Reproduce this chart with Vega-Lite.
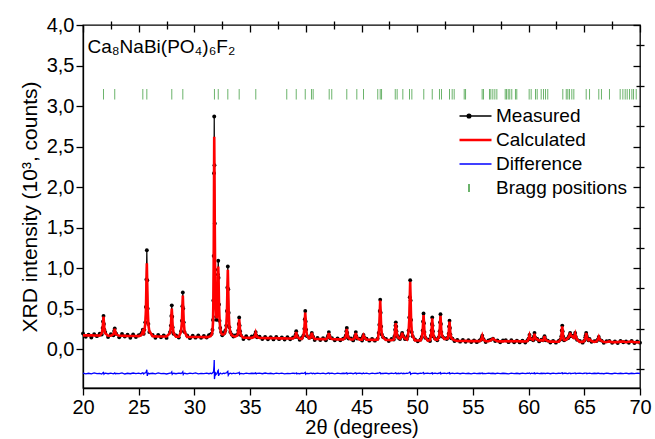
{
 "$schema": "https://vega.github.io/schema/vega-lite/v6.json",
 "width": 557, "height": 363,
 "autosize": {"type": "none"},
 "padding": {"left": 83, "top": 25, "right": 15, "bottom": 51},
 "background": "white",
 "config": {
  "font": "Liberation Sans",
  "view": {"stroke": "black", "strokeWidth": 1.3},
  "axis": {"domainColor": "black", "tickColor": "black", "labelColor": "black", "titleColor": "black", "grid": false, "labelFontSize": 20, "titleFontSize": 20, "titleFontWeight": "normal", "tickWidth": 1.3, "domainWidth": 1.3, "labelFlush": false, "labelOverlap": false}
 },
 "datasets": {
  "xrd": [
{"x":20,"m":0.192,"c":0.170,"d":-0.296},
{"x":20.25,"m":0.152,"c":0.170,"d":-0.305},
{"x":20.5,"m":0.179,"c":0.169,"d":-0.298},
{"x":20.75,"m":0.144,"c":0.169,"d":-0.306},
{"x":21,"m":0.184,"c":0.168,"d":-0.293},
{"x":21.25,"m":0.160,"c":0.168,"d":-0.303},
{"x":21.5,"m":0.191,"c":0.167,"d":-0.299},
{"x":21.68,"m":0.180,"c":0.195,"d":-0.308},
{"x":21.76,"m":0.260,"c":0.251,"d":-0.295},
{"x":21.8,"m":0.340,"c":0.328,"d":-0.296},
{"x":21.84,"m":0.410,"c":0.400,"d":-0.290},
{"x":21.88,"m":0.310,"c":0.328,"d":-0.309},
{"x":21.92,"m":0.240,"c":0.251,"d":-0.302},
{"x":22,"m":0.210,"c":0.195,"d":-0.297},
{"x":22.25,"m":0.149,"c":0.166,"d":-0.304},
{"x":22.5,"m":0.183,"c":0.165,"d":-0.296},
{"x":22.73,"m":0.170,"c":0.182,"d":-0.305},
{"x":22.8,"m":0.225,"c":0.215,"d":-0.298},
{"x":22.85,"m":0.255,"c":0.250,"d":-0.294},
{"x":22.9,"m":0.200,"c":0.215,"d":-0.306},
{"x":22.97,"m":0.190,"c":0.182,"d":-0.299},
{"x":23.25,"m":0.147,"c":0.164,"d":-0.303},
{"x":23.5,"m":0.186,"c":0.164,"d":-0.293},
{"x":23.75,"m":0.155,"c":0.163,"d":-0.307},
{"x":24,"m":0.178,"c":0.162,"d":-0.298},
{"x":24.25,"m":0.140,"c":0.162,"d":-0.304},
{"x":24.5,"m":0.180,"c":0.161,"d":-0.295},
{"x":24.75,"m":0.150,"c":0.161,"d":-0.302},
{"x":25,"m":0.171,"c":0.160,"d":-0.297},
{"x":25.2,"m":0.185,"c":0.170,"d":-0.305},
{"x":25.3,"m":0.205,"c":0.190,"d":-0.296},
{"x":25.37,"m":0.240,"c":0.220,"d":-0.292},
{"x":25.45,"m":0.190,"c":0.200,"d":-0.306},
{"x":25.51,"m":0.240,"c":0.230,"d":-0.297},
{"x":25.59,"m":0.330,"c":0.310,"d":-0.293},
{"x":25.65,"m":0.520,"c":0.484,"d":-0.288},
{"x":25.69,"m":0.860,"c":0.780,"d":-0.272},
{"x":25.73,"m":1.220,"c":1.060,"d":-0.255},
{"x":25.77,"m":0.850,"c":0.780,"d":-0.330},
{"x":25.81,"m":0.500,"c":0.484,"d":-0.310},
{"x":25.87,"m":0.310,"c":0.300,"d":-0.296},
{"x":25.95,"m":0.210,"c":0.223,"d":-0.304},
{"x":26.25,"m":0.175,"c":0.158,"d":-0.298},
{"x":26.5,"m":0.140,"c":0.157,"d":-0.305},
{"x":26.75,"m":0.176,"c":0.156,"d":-0.294},
{"x":27,"m":0.146,"c":0.156,"d":-0.303},
{"x":27.25,"m":0.170,"c":0.155,"d":-0.299},
{"x":27.5,"m":0.138,"c":0.155,"d":-0.307},
{"x":27.81,"m":0.210,"c":0.196,"d":-0.296},
{"x":27.89,"m":0.290,"c":0.279,"d":-0.295},
{"x":27.93,"m":0.410,"c":0.393,"d":-0.291},
{"x":27.97,"m":0.540,"c":0.500,"d":-0.282},
{"x":28.01,"m":0.400,"c":0.393,"d":-0.310},
{"x":28.05,"m":0.270,"c":0.279,"d":-0.303},
{"x":28.13,"m":0.190,"c":0.196,"d":-0.298},
{"x":28.35,"m":0.170,"c":0.153,"d":-0.304},
{"x":28.6,"m":0.142,"c":0.153,"d":-0.296},
{"x":28.8,"m":0.220,"c":0.213,"d":-0.301},
{"x":28.88,"m":0.350,"c":0.336,"d":-0.295},
{"x":28.92,"m":0.530,"c":0.504,"d":-0.289},
{"x":28.96,"m":0.700,"c":0.660,"d":-0.280},
{"x":29,"m":0.500,"c":0.504,"d":-0.312},
{"x":29.04,"m":0.330,"c":0.336,"d":-0.303},
{"x":29.12,"m":0.210,"c":0.213,"d":-0.298},
{"x":29.35,"m":0.168,"c":0.150,"d":-0.305},
{"x":29.6,"m":0.135,"c":0.150,"d":-0.297},
{"x":29.85,"m":0.166,"c":0.150,"d":-0.303},
{"x":30.1,"m":0.141,"c":0.150,"d":-0.294},
{"x":30.35,"m":0.170,"c":0.149,"d":-0.306},
{"x":30.6,"m":0.139,"c":0.149,"d":-0.299},
{"x":30.85,"m":0.163,"c":0.148,"d":-0.302},
{"x":31.1,"m":0.142,"c":0.148,"d":-0.296},
{"x":31.3,"m":0.171,"c":0.152,"d":-0.304},
{"x":31.45,"m":0.180,"c":0.160,"d":-0.298},
{"x":31.55,"m":0.190,"c":0.180,"d":-0.303},
{"x":31.62,"m":0.240,"c":0.220,"d":-0.295},
{"x":31.67,"m":0.360,"c":0.330,"d":-0.290},
{"x":31.7,"m":0.600,"c":0.550,"d":-0.284},
{"x":31.73,"m":1.150,"c":1.050,"d":-0.262},
{"x":31.76,"m":2.170,"c":1.950,"d":-0.205},
{"x":31.78,"m":2.870,"c":2.620,"d":-0.135},
{"x":31.8,"m":2.270,"c":2.200,"d":-0.370},
{"x":31.83,"m":1.550,"c":1.500,"d":-0.335},
{"x":31.86,"m":0.980,"c":0.950,"d":-0.280},
{"x":31.9,"m":0.550,"c":0.580,"d":-0.318},
{"x":31.95,"m":0.400,"c":0.420,"d":-0.310},
{"x":32,"m":0.360,"c":0.380,"d":-0.306},
{"x":32.04,"m":0.450,"c":0.430,"d":-0.292},
{"x":32.08,"m":0.660,"c":0.620,"d":-0.285},
{"x":32.11,"m":0.920,"c":0.850,"d":-0.268},
{"x":32.14,"m":1.090,"c":1.020,"d":-0.262},
{"x":32.17,"m":0.880,"c":0.850,"d":-0.330},
{"x":32.21,"m":0.550,"c":0.550,"d":-0.315},
{"x":32.26,"m":0.350,"c":0.360,"d":-0.305},
{"x":32.32,"m":0.260,"c":0.250,"d":-0.296},
{"x":32.4,"m":0.210,"c":0.200,"d":-0.302},
{"x":32.5,"m":0.170,"c":0.180,"d":-0.306},
{"x":32.6,"m":0.190,"c":0.180,"d":-0.297},
{"x":32.7,"m":0.200,"c":0.190,"d":-0.301},
{"x":32.78,"m":0.230,"c":0.210,"d":-0.296},
{"x":32.86,"m":0.290,"c":0.275,"d":-0.293},
{"x":32.92,"m":0.470,"c":0.445,"d":-0.288},
{"x":32.96,"m":0.760,"c":0.720,"d":-0.280},
{"x":33,"m":1.020,"c":0.980,"d":-0.275},
{"x":33.04,"m":0.740,"c":0.720,"d":-0.322},
{"x":33.08,"m":0.450,"c":0.445,"d":-0.312},
{"x":33.14,"m":0.270,"c":0.275,"d":-0.303},
{"x":33.22,"m":0.210,"c":0.210,"d":-0.298},
{"x":33.35,"m":0.180,"c":0.170,"d":-0.304},
{"x":33.5,"m":0.155,"c":0.160,"d":-0.296},
{"x":33.65,"m":0.170,"c":0.155,"d":-0.302},
{"x":33.86,"m":0.180,"c":0.169,"d":-0.297},
{"x":33.94,"m":0.230,"c":0.224,"d":-0.295},
{"x":33.98,"m":0.310,"c":0.300,"d":-0.292},
{"x":34.02,"m":0.390,"c":0.370,"d":-0.288},
{"x":34.06,"m":0.290,"c":0.300,"d":-0.309},
{"x":34.1,"m":0.220,"c":0.224,"d":-0.303},
{"x":34.18,"m":0.170,"c":0.169,"d":-0.299},
{"x":34.4,"m":0.125,"c":0.141,"d":-0.305},
{"x":34.65,"m":0.158,"c":0.140,"d":-0.296},
{"x":34.9,"m":0.130,"c":0.139,"d":-0.303},
{"x":35.15,"m":0.155,"c":0.139,"d":-0.298},
{"x":35.38,"m":0.160,"c":0.150,"d":-0.301},
{"x":35.45,"m":0.180,"c":0.175,"d":-0.296},
{"x":35.5,"m":0.210,"c":0.200,"d":-0.293},
{"x":35.55,"m":0.170,"c":0.175,"d":-0.305},
{"x":35.62,"m":0.145,"c":0.150,"d":-0.300},
{"x":35.85,"m":0.152,"c":0.137,"d":-0.297},
{"x":36.1,"m":0.124,"c":0.137,"d":-0.304},
{"x":36.35,"m":0.150,"c":0.136,"d":-0.295},
{"x":36.6,"m":0.122,"c":0.135,"d":-0.303},
{"x":36.85,"m":0.148,"c":0.135,"d":-0.298},
{"x":37.1,"m":0.120,"c":0.134,"d":-0.306},
{"x":37.35,"m":0.150,"c":0.136,"d":-0.296},
{"x":37.6,"m":0.123,"c":0.133,"d":-0.302},
{"x":37.85,"m":0.145,"c":0.133,"d":-0.297},
{"x":38.1,"m":0.118,"c":0.132,"d":-0.305},
{"x":38.35,"m":0.146,"c":0.131,"d":-0.299},
{"x":38.6,"m":0.121,"c":0.130,"d":-0.303},
{"x":38.85,"m":0.143,"c":0.130,"d":-0.296},
{"x":39.02,"m":0.150,"c":0.146,"d":-0.301},
{"x":39.09,"m":0.180,"c":0.177,"d":-0.298},
{"x":39.14,"m":0.220,"c":0.210,"d":-0.294},
{"x":39.19,"m":0.170,"c":0.177,"d":-0.305},
{"x":39.26,"m":0.150,"c":0.146,"d":-0.300},
{"x":39.45,"m":0.115,"c":0.128,"d":-0.304},
{"x":39.65,"m":0.141,"c":0.127,"d":-0.297},
{"x":39.79,"m":0.170,"c":0.166,"d":-0.299},
{"x":39.87,"m":0.250,"c":0.243,"d":-0.296},
{"x":39.91,"m":0.370,"c":0.350,"d":-0.291},
{"x":39.95,"m":0.470,"c":0.450,"d":-0.287},
{"x":39.99,"m":0.340,"c":0.350,"d":-0.309},
{"x":40.03,"m":0.240,"c":0.243,"d":-0.303},
{"x":40.11,"m":0.160,"c":0.166,"d":-0.299},
{"x":40.3,"m":0.140,"c":0.135,"d":-0.302},
{"x":40.42,"m":0.145,"c":0.140,"d":-0.297},
{"x":40.49,"m":0.175,"c":0.170,"d":-0.296},
{"x":40.54,"m":0.200,"c":0.200,"d":-0.300},
{"x":40.59,"m":0.165,"c":0.170,"d":-0.303},
{"x":40.66,"m":0.150,"c":0.150,"d":-0.298},
{"x":40.8,"m":0.112,"c":0.124,"d":-0.304},
{"x":41.05,"m":0.138,"c":0.124,"d":-0.296},
{"x":41.3,"m":0.113,"c":0.123,"d":-0.302},
{"x":41.55,"m":0.135,"c":0.123,"d":-0.297},
{"x":41.8,"m":0.110,"c":0.122,"d":-0.305},
{"x":41.95,"m":0.145,"c":0.138,"d":-0.298},
{"x":42.02,"m":0.170,"c":0.168,"d":-0.296},
{"x":42.07,"m":0.210,"c":0.200,"d":-0.293},
{"x":42.12,"m":0.165,"c":0.168,"d":-0.304},
{"x":42.19,"m":0.135,"c":0.138,"d":-0.300},
{"x":42.35,"m":0.135,"c":0.125,"d":-0.297},
{"x":42.6,"m":0.108,"c":0.121,"d":-0.305},
{"x":42.85,"m":0.133,"c":0.120,"d":-0.296},
{"x":43.1,"m":0.110,"c":0.120,"d":-0.302},
{"x":43.35,"m":0.130,"c":0.119,"d":-0.298},
{"x":43.52,"m":0.140,"c":0.135,"d":-0.301},
{"x":43.6,"m":0.170,"c":0.166,"d":-0.297},
{"x":43.64,"m":0.220,"c":0.209,"d":-0.294},
{"x":43.68,"m":0.260,"c":0.250,"d":-0.292},
{"x":43.72,"m":0.200,"c":0.209,"d":-0.306},
{"x":43.76,"m":0.160,"c":0.166,"d":-0.302},
{"x":43.84,"m":0.130,"c":0.135,"d":-0.299},
{"x":44.05,"m":0.132,"c":0.118,"d":-0.296},
{"x":44.25,"m":0.107,"c":0.118,"d":-0.304},
{"x":44.37,"m":0.140,"c":0.135,"d":-0.298},
{"x":44.44,"m":0.170,"c":0.167,"d":-0.297},
{"x":44.49,"m":0.210,"c":0.200,"d":-0.294},
{"x":44.54,"m":0.160,"c":0.167,"d":-0.305},
{"x":44.61,"m":0.130,"c":0.135,"d":-0.300},
{"x":44.85,"m":0.129,"c":0.117,"d":-0.297},
{"x":45.05,"m":0.106,"c":0.116,"d":-0.304},
{"x":45.11,"m":0.150,"c":0.148,"d":-0.299},
{"x":45.18,"m":0.175,"c":0.170,"d":-0.296},
{"x":45.25,"m":0.140,"c":0.148,"d":-0.303},
{"x":45.45,"m":0.128,"c":0.116,"d":-0.297},
{"x":45.7,"m":0.104,"c":0.115,"d":-0.305},
{"x":45.95,"m":0.127,"c":0.114,"d":-0.296},
{"x":46.2,"m":0.104,"c":0.114,"d":-0.302},
{"x":46.45,"m":0.130,"c":0.118,"d":-0.298},
{"x":46.54,"m":0.200,"c":0.188,"d":-0.297},
{"x":46.6,"m":0.300,"c":0.288,"d":-0.295},
{"x":46.64,"m":0.470,"c":0.449,"d":-0.290},
{"x":46.68,"m":0.610,"c":0.600,"d":-0.292},
{"x":46.72,"m":0.450,"c":0.449,"d":-0.304},
{"x":46.76,"m":0.280,"c":0.288,"d":-0.303},
{"x":46.82,"m":0.180,"c":0.188,"d":-0.299},
{"x":46.95,"m":0.145,"c":0.140,"d":-0.301},
{"x":47.2,"m":0.124,"c":0.112,"d":-0.296},
{"x":47.45,"m":0.100,"c":0.112,"d":-0.304},
{"x":47.7,"m":0.125,"c":0.111,"d":-0.297},
{"x":47.9,"m":0.118,"c":0.120,"d":-0.302},
{"x":47.96,"m":0.160,"c":0.153,"d":-0.298},
{"x":48.02,"m":0.240,"c":0.231,"d":-0.296},
{"x":48.05,"m":0.290,"c":0.280,"d":-0.294},
{"x":48.08,"m":0.330,"c":0.320,"d":-0.293},
{"x":48.11,"m":0.280,"c":0.280,"d":-0.302},
{"x":48.14,"m":0.220,"c":0.231,"d":-0.305},
{"x":48.2,"m":0.165,"c":0.170,"d":-0.301},
{"x":48.3,"m":0.140,"c":0.140,"d":-0.298},
{"x":48.45,"m":0.125,"c":0.130,"d":-0.303},
{"x":48.55,"m":0.155,"c":0.150,"d":-0.297},
{"x":48.6,"m":0.175,"c":0.170,"d":-0.296},
{"x":48.65,"m":0.200,"c":0.200,"d":-0.299},
{"x":48.7,"m":0.170,"c":0.175,"d":-0.304},
{"x":48.78,"m":0.155,"c":0.150,"d":-0.298},
{"x":48.9,"m":0.125,"c":0.130,"d":-0.302},
{"x":49.08,"m":0.125,"c":0.118,"d":-0.297},
{"x":49.15,"m":0.160,"c":0.158,"d":-0.299},
{"x":49.23,"m":0.230,"c":0.220,"d":-0.295},
{"x":49.29,"m":0.390,"c":0.368,"d":-0.290},
{"x":49.33,"m":0.640,"c":0.608,"d":-0.284},
{"x":49.37,"m":0.850,"c":0.830,"d":-0.286},
{"x":49.41,"m":0.600,"c":0.608,"d":-0.310},
{"x":49.45,"m":0.360,"c":0.368,"d":-0.305},
{"x":49.51,"m":0.210,"c":0.220,"d":-0.302},
{"x":49.59,"m":0.160,"c":0.160,"d":-0.299},
{"x":49.8,"m":0.120,"c":0.107,"d":-0.296},
{"x":50.05,"m":0.096,"c":0.106,"d":-0.304},
{"x":50.3,"m":0.118,"c":0.106,"d":-0.297},
{"x":50.41,"m":0.150,"c":0.144,"d":-0.299},
{"x":50.49,"m":0.230,"c":0.219,"d":-0.295},
{"x":50.53,"m":0.340,"c":0.323,"d":-0.291},
{"x":50.57,"m":0.440,"c":0.420,"d":-0.289},
{"x":50.61,"m":0.320,"c":0.323,"d":-0.306},
{"x":50.65,"m":0.210,"c":0.219,"d":-0.303},
{"x":50.73,"m":0.140,"c":0.144,"d":-0.299},
{"x":50.95,"m":0.118,"c":0.105,"d":-0.297},
{"x":51.15,"m":0.100,"c":0.110,"d":-0.303},
{"x":51.23,"m":0.165,"c":0.159,"d":-0.298},
{"x":51.29,"m":0.230,"c":0.224,"d":-0.296},
{"x":51.32,"m":0.310,"c":0.294,"d":-0.292},
{"x":51.35,"m":0.390,"c":0.380,"d":-0.291},
{"x":51.38,"m":0.290,"c":0.294,"d":-0.305},
{"x":51.41,"m":0.220,"c":0.224,"d":-0.302},
{"x":51.47,"m":0.155,"c":0.159,"d":-0.299},
{"x":51.6,"m":0.130,"c":0.120,"d":-0.297},
{"x":51.8,"m":0.110,"c":0.115,"d":-0.303},
{"x":51.93,"m":0.145,"c":0.140,"d":-0.298},
{"x":52.01,"m":0.220,"c":0.213,"d":-0.296},
{"x":52.05,"m":0.330,"c":0.315,"d":-0.291},
{"x":52.09,"m":0.430,"c":0.410,"d":-0.288},
{"x":52.13,"m":0.310,"c":0.315,"d":-0.306},
{"x":52.17,"m":0.210,"c":0.213,"d":-0.302},
{"x":52.25,"m":0.155,"c":0.160,"d":-0.299},
{"x":52.45,"m":0.135,"c":0.125,"d":-0.297},
{"x":52.65,"m":0.125,"c":0.130,"d":-0.303},
{"x":52.74,"m":0.140,"c":0.131,"d":-0.298},
{"x":52.82,"m":0.190,"c":0.188,"d":-0.297},
{"x":52.86,"m":0.280,"c":0.266,"d":-0.293},
{"x":52.9,"m":0.350,"c":0.340,"d":-0.291},
{"x":52.94,"m":0.260,"c":0.266,"d":-0.305},
{"x":52.98,"m":0.180,"c":0.188,"d":-0.302},
{"x":53.06,"m":0.135,"c":0.140,"d":-0.299},
{"x":53.16,"m":0.130,"c":0.125,"d":-0.297},
{"x":53.35,"m":0.100,"c":0.108,"d":-0.303},
{"x":53.6,"m":0.113,"c":0.101,"d":-0.297},
{"x":53.85,"m":0.092,"c":0.100,"d":-0.304},
{"x":54.1,"m":0.112,"c":0.100,"d":-0.296},
{"x":54.35,"m":0.090,"c":0.102,"d":-0.302},
{"x":54.6,"m":0.110,"c":0.099,"d":-0.298},
{"x":54.85,"m":0.088,"c":0.099,"d":-0.305},
{"x":55.1,"m":0.108,"c":0.099,"d":-0.296},
{"x":55.35,"m":0.086,"c":0.098,"d":-0.303},
{"x":55.6,"m":0.106,"c":0.098,"d":-0.298},
{"x":55.72,"m":0.115,"c":0.110,"d":-0.301},
{"x":55.79,"m":0.140,"c":0.135,"d":-0.297},
{"x":55.84,"m":0.165,"c":0.160,"d":-0.295},
{"x":55.89,"m":0.130,"c":0.135,"d":-0.304},
{"x":55.96,"m":0.120,"c":0.115,"d":-0.299},
{"x":56.15,"m":0.088,"c":0.098,"d":-0.303},
{"x":56.4,"m":0.108,"c":0.097,"d":-0.297},
{"x":56.6,"m":0.115,"c":0.108,"d":-0.301},
{"x":56.8,"m":0.130,"c":0.130,"d":-0.298},
{"x":57,"m":0.100,"c":0.110,"d":-0.304},
{"x":57.2,"m":0.108,"c":0.097,"d":-0.296},
{"x":57.45,"m":0.085,"c":0.096,"d":-0.303},
{"x":57.7,"m":0.106,"c":0.096,"d":-0.298},
{"x":57.95,"m":0.110,"c":0.100,"d":-0.301},
{"x":58.2,"m":0.086,"c":0.096,"d":-0.305},
{"x":58.45,"m":0.109,"c":0.100,"d":-0.297},
{"x":58.7,"m":0.084,"c":0.095,"d":-0.303},
{"x":58.95,"m":0.105,"c":0.100,"d":-0.298},
{"x":59.2,"m":0.083,"c":0.095,"d":-0.304},
{"x":59.45,"m":0.104,"c":0.095,"d":-0.296},
{"x":59.7,"m":0.082,"c":0.094,"d":-0.302},
{"x":59.9,"m":0.108,"c":0.100,"d":-0.298},
{"x":60,"m":0.130,"c":0.130,"d":-0.300},
{"x":60.08,"m":0.175,"c":0.170,"d":-0.295},
{"x":60.16,"m":0.125,"c":0.130,"d":-0.304},
{"x":60.28,"m":0.130,"c":0.120,"d":-0.297},
{"x":60.41,"m":0.110,"c":0.113,"d":-0.302},
{"x":60.48,"m":0.155,"c":0.150,"d":-0.297},
{"x":60.53,"m":0.200,"c":0.190,"d":-0.294},
{"x":60.58,"m":0.145,"c":0.150,"d":-0.305},
{"x":60.65,"m":0.130,"c":0.130,"d":-0.300},
{"x":60.78,"m":0.125,"c":0.120,"d":-0.297},
{"x":60.95,"m":0.095,"c":0.105,"d":-0.303},
{"x":61.15,"m":0.115,"c":0.110,"d":-0.298},
{"x":61.31,"m":0.110,"c":0.106,"d":-0.301},
{"x":61.38,"m":0.135,"c":0.132,"d":-0.297},
{"x":61.43,"m":0.160,"c":0.160,"d":-0.298},
{"x":61.48,"m":0.130,"c":0.132,"d":-0.303},
{"x":61.55,"m":0.110,"c":0.112,"d":-0.299},
{"x":61.72,"m":0.105,"c":0.100,"d":-0.297},
{"x":61.95,"m":0.082,"c":0.092,"d":-0.304},
{"x":62.2,"m":0.102,"c":0.092,"d":-0.297},
{"x":62.45,"m":0.080,"c":0.091,"d":-0.303},
{"x":62.7,"m":0.101,"c":0.091,"d":-0.298},
{"x":62.86,"m":0.120,"c":0.114,"d":-0.300},
{"x":62.94,"m":0.160,"c":0.159,"d":-0.298},
{"x":62.98,"m":0.230,"c":0.221,"d":-0.294},
{"x":63.02,"m":0.290,"c":0.280,"d":-0.292},
{"x":63.06,"m":0.220,"c":0.221,"d":-0.303},
{"x":63.1,"m":0.155,"c":0.159,"d":-0.302},
{"x":63.18,"m":0.110,"c":0.114,"d":-0.298},
{"x":63.3,"m":0.120,"c":0.110,"d":-0.297},
{"x":63.45,"m":0.130,"c":0.125,"d":-0.301},
{"x":63.55,"m":0.135,"c":0.140,"d":-0.303},
{"x":63.62,"m":0.155,"c":0.150,"d":-0.298},
{"x":63.68,"m":0.175,"c":0.170,"d":-0.297},
{"x":63.73,"m":0.200,"c":0.200,"d":-0.296},
{"x":63.78,"m":0.160,"c":0.170,"d":-0.304},
{"x":63.88,"m":0.165,"c":0.160,"d":-0.299},
{"x":64.06,"m":0.145,"c":0.140,"d":-0.298},
{"x":64.12,"m":0.170,"c":0.165,"d":-0.297},
{"x":64.18,"m":0.200,"c":0.190,"d":-0.294},
{"x":64.24,"m":0.150,"c":0.155,"d":-0.304},
{"x":64.35,"m":0.115,"c":0.120,"d":-0.300},
{"x":64.6,"m":0.100,"c":0.089,"d":-0.297},
{"x":64.85,"m":0.080,"c":0.089,"d":-0.303},
{"x":65,"m":0.105,"c":0.100,"d":-0.298},
{"x":65.09,"m":0.145,"c":0.140,"d":-0.297},
{"x":65.13,"m":0.170,"c":0.165,"d":-0.296},
{"x":65.17,"m":0.200,"c":0.200,"d":-0.297},
{"x":65.21,"m":0.165,"c":0.170,"d":-0.304},
{"x":65.25,"m":0.140,"c":0.140,"d":-0.301},
{"x":65.37,"m":0.110,"c":0.110,"d":-0.299},
{"x":65.47,"m":0.125,"c":0.120,"d":-0.297},
{"x":65.65,"m":0.090,"c":0.100,"d":-0.303},
{"x":65.9,"m":0.098,"c":0.088,"d":-0.298},
{"x":66.1,"m":0.100,"c":0.095,"d":-0.301},
{"x":66.22,"m":0.120,"c":0.120,"d":-0.298},
{"x":66.3,"m":0.150,"c":0.150,"d":-0.296},
{"x":66.38,"m":0.115,"c":0.120,"d":-0.303},
{"x":66.55,"m":0.105,"c":0.100,"d":-0.299},
{"x":66.75,"m":0.078,"c":0.087,"d":-0.304},
{"x":67,"m":0.097,"c":0.087,"d":-0.297},
{"x":67.25,"m":0.100,"c":0.095,"d":-0.301},
{"x":67.5,"m":0.077,"c":0.086,"d":-0.304},
{"x":67.75,"m":0.096,"c":0.086,"d":-0.297},
{"x":68,"m":0.076,"c":0.086,"d":-0.303},
{"x":68.25,"m":0.100,"c":0.092,"d":-0.298},
{"x":68.5,"m":0.085,"c":0.093,"d":-0.302},
{"x":68.75,"m":0.095,"c":0.085,"d":-0.297},
{"x":69,"m":0.078,"c":0.090,"d":-0.304},
{"x":69.25,"m":0.100,"c":0.092,"d":-0.298},
{"x":69.5,"m":0.076,"c":0.084,"d":-0.303},
{"x":69.75,"m":0.094,"c":0.084,"d":-0.297},
{"x":70,"m":0.080,"c":0.084,"d":-0.301}
  ],
  "bragg": [
{"x":21.84},{"x":22.85},{"x":25.37},{"x":25.73},{"x":27.97},{"x":28.96},{"x":31.80},{"x":32.14},{"x":33.00},{"x":34.02},
{"x":35.51},{"x":38.29},{"x":39.14},{"x":39.95},{"x":40.51},{"x":40.66},{"x":42.10},{"x":42.33},{"x":43.68},{"x":44.58},
{"x":45.18},{"x":46.46},{"x":46.68},{"x":46.80},{"x":48.03},{"x":48.20},{"x":48.71},{"x":49.31},{"x":49.52},{"x":50.59},
{"x":51.35},{"x":52.00},{"x":52.18},{"x":52.90},{"x":53.14},{"x":53.32},{"x":54.22},{"x":54.34},{"x":55.83},{"x":55.95},
{"x":56.49},{"x":56.61},{"x":56.79},{"x":56.97},{"x":57.15},{"x":57.90},{"x":58.02},{"x":58.17},{"x":58.31},{"x":58.49},
{"x":58.82},{"x":58.94},{"x":60.05},{"x":60.23},{"x":60.62},{"x":60.77},{"x":61.13},{"x":61.34},{"x":61.52},{"x":61.72},
{"x":63.07},{"x":63.38},{"x":63.52},{"x":63.67},{"x":63.88},{"x":64.06},{"x":65.17},{"x":65.47},{"x":66.30},{"x":66.54},
{"x":67.26},{"x":68.22},{"x":68.46},{"x":68.67},{"x":68.85},{"x":69.06},{"x":69.27},{"x":69.42},{"x":69.66}
  ]
 },
 "layer": [
  {
   "data": {"name": "xrd"},
   "mark": {"type": "line", "strokeWidth": 1.2, "point": {"filled": true, "size": 15}},
   "encoding": {
    "x": {"field": "x", "type": "quantitative", "scale": {"domain": [20, 70], "nice": false, "zero": false},
          "axis": {"values": [20,25,30,35,40,45,50,55,60,65,70], "tickSize": 7, "labelPadding": 2, "title": "2θ (degrees)", "titlePadding": 0}},
    "y": {"field": "m", "type": "quantitative", "scale": {"domain": [-0.48, 4], "nice": false, "zero": false},
          "axis": {"values": [0,0.5,1,1.5,2,2.5,3,3.5,4], "tickSize": 7, "labelPadding": 2, "labelExpr": "replace(format(datum.value, '.1f'), '.', ',')", "title": "XRD intensity (10³, counts)", "titleFontSize": 21, "titlePadding": 6}},
    "color": {"datum": "Measured", "type": "nominal",
      "scale": {"domain": ["Measured", "Calculated", "Difference", "Bragg positions"], "range": ["#000000", "#ff0000", "#0000ff", "#3a9a3a"]},
      "legend": {"orient": "none", "legendX": 376.5, "legendY": 81, "title": null, "padding": 0, "labelFontSize": 19, "labelColor": "black", "symbolSize": 2025, "symbolType": "stroke", "clipHeight": 20, "rowPadding": 4, "labelOffset": 17.5, "symbolStrokeWidth": 1.5,
        "encode": {"symbols": {"update": {
          "shape": {"signal": "datum.value === 'Measured' ? 'M-1,0L1,0M0.08,0A0.08,0.08,0,1,1,-0.08,0A0.08,0.08,0,1,1,0.08,0' : datum.value === 'Bragg positions' ? 'M0,-0.18L0,0.18' : 'stroke'"},
          "fill": {"signal": "datum.value === 'Measured' ? 'black' : 'transparent'"},
          "stroke": {"signal": "scale('color', datum.value)"},
          "strokeWidth": {"signal": "datum.value === 'Calculated' ? 2.5 : 1.5"},
          "opacity": {"value": 1}
        }}}}}
   }
  },
  {
   "data": {"name": "xrd"},
   "mark": {"type": "line", "strokeWidth": 2.6},
   "encoding": {
    "x": {"field": "x", "type": "quantitative", "axis": {"values": [22.5,27.5,32.5,37.5,42.5,47.5,52.5,57.5,62.5,67.5], "tickSize": 4, "labels": false, "domain": false, "title": null}},
    "y": {"field": "c", "type": "quantitative", "axis": {"values": [-0.25,0.25,0.75,1.25,1.75,2.25,2.75,3.25,3.75], "tickSize": 4, "labels": false, "domain": false, "title": null}},
    "color": {"datum": "Calculated", "type": "nominal"}
   }
  },
  {
   "data": {"name": "xrd"},
   "mark": {"type": "line", "strokeWidth": 1.3},
   "encoding": {
    "x": {"field": "x", "type": "quantitative", "axis": {"orient": "top", "offset": -7, "values": [20,25,30,35,40,45,50,55,60,65,70], "tickSize": 7, "labels": false, "domain": false, "title": null}},
    "y": {"field": "d", "type": "quantitative", "axis": {"orient": "right", "offset": -7, "values": [0,0.5,1,1.5,2,2.5,3,3.5,4], "tickSize": 7, "labels": false, "domain": false, "title": null}},
    "color": {"datum": "Difference", "type": "nominal"}
   }
  },
  {
   "data": {"name": "bragg"},
   "mark": {"type": "rule", "strokeWidth": 1, "opacity": 0.75},
   "encoding": {
    "x": {"field": "x", "type": "quantitative", "axis": {"orient": "top", "offset": -4, "values": [22.5,27.5,32.5,37.5,42.5,47.5,52.5,57.5,62.5,67.5], "tickSize": 4, "labels": false, "domain": false, "title": null}},
    "y": {"datum": 3.08, "type": "quantitative", "axis": {"orient": "right", "offset": -4, "values": [-0.25,0.25,0.75,1.25,1.75,2.25,2.75,3.25,3.75], "tickSize": 4, "labels": false, "domain": false, "title": null}},
    "y2": {"datum": 3.21},
    "color": {"datum": "Bragg positions", "type": "nominal"}
   }
  },
  {
   "data": {"values": [{}]},
   "mark": {"type": "text", "align": "left", "baseline": "middle", "fontSize": 19, "color": "black"},
   "encoding": {
    "x": {"datum": 20.4, "type": "quantitative", "axis": null},
    "y": {"datum": 3.73, "type": "quantitative", "axis": null},
    "text": {"value": "Ca₈NaBi(PO₄)₆F₂"}
   }
  }
 ],
 "resolve": {"axis": {"x": "independent", "y": "independent"}}
}
